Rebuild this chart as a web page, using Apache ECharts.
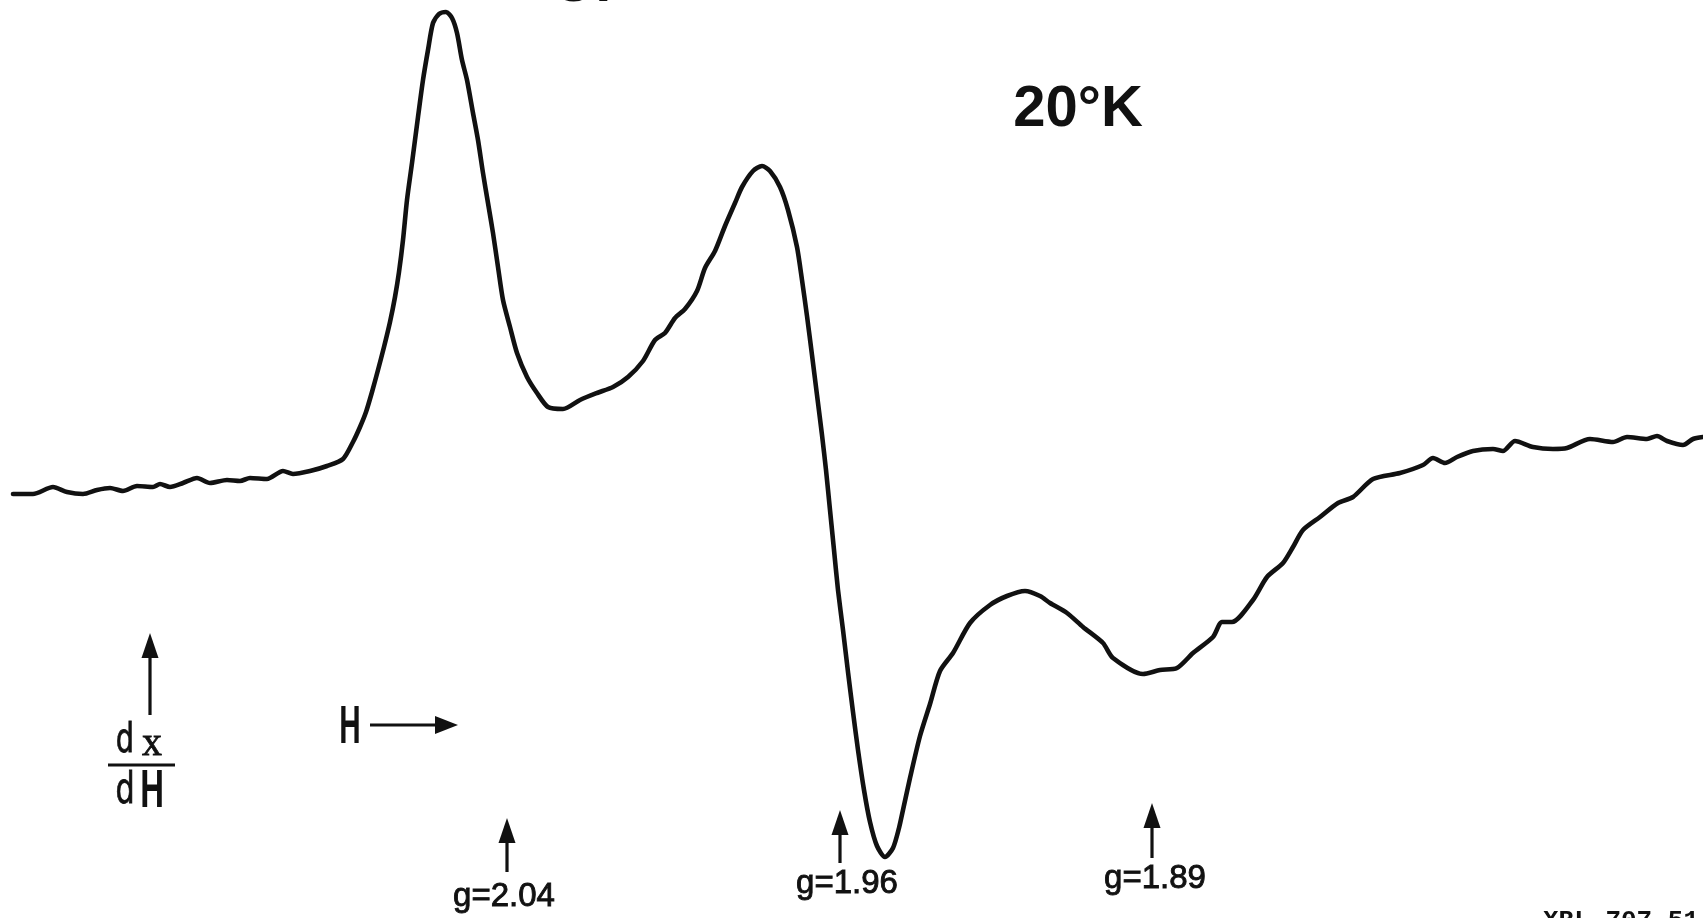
<!DOCTYPE html>
<html>
<head>
<meta charset="utf-8">
<script src="https://cdn.jsdelivr.net/npm/echarts@6/dist/echarts.min.js"></script>
<style>
  html, body { margin: 0; padding: 0; background: #ffffff; }
  #chart { width: 1703px; height: 918px; }
</style>
</head>
<body>
<div id="chart"></div>
<script>
// Magnetic field sweep position (arbitrary units, increasing H)
const fieldPos = [
  13, 33, 53, 67, 83, 97, 110, 123, 137, 153, 160, 170, 183, 197, 210, 227, 240, 250, 267, 283,
  293, 310, 327, 343, 353, 360, 366, 372, 378, 384, 390, 395, 399, 403, 407, 412, 418, 423, 428, 433,
  439, 446, 452, 457, 462, 467, 473, 478, 483, 488, 493, 498, 503, 510, 517, 527, 537, 548, 563, 580,
  597, 613, 628, 643, 655, 665, 675, 685, 697, 705, 715, 725, 735, 742, 753, 762, 770, 780, 788, 797,
  802, 807, 812, 817, 822, 826, 830, 834, 838, 843, 848, 853, 858, 864, 870, 877, 885, 893, 899, 903,
  910, 920, 930, 940, 953, 970, 990, 1007, 1025, 1040, 1050, 1067, 1083, 1103, 1113, 1143, 1160, 1177, 1193, 1213,
  1222, 1232, 1253, 1267, 1283, 1293, 1303, 1320, 1338, 1353, 1373, 1400, 1423, 1433, 1445, 1457, 1473, 1493, 1503, 1515,
  1533, 1553, 1567, 1590, 1613, 1627, 1647, 1657, 1667, 1683, 1693, 1703
];

// First-derivative absorption signal dX/dH (arbitrary units)
const signal = [
  -24, -24, -17, -22, -24, -20, -18, -21, -16, -17, -14, -17, -13, -8, -13, -10, -11, -8, -9, -1,
  -4, -1, 4, 11, 28, 43, 58, 78, 100, 123, 148, 173, 198, 230, 270, 307, 353, 390, 420, 447,
  456, 458, 452, 437, 410, 390, 357, 330, 297, 267, 237, 203, 170, 143, 117, 93, 77, 63, 61, 70,
  77, 83, 93, 109, 130, 137, 152, 161, 179, 202, 219, 244, 267, 283, 299, 304, 299, 283, 260, 223,
  190, 154, 115, 75, 35, 0, -40, -80, -120, -160, -202, -242, -280, -320, -352, -376, -387, -378, -358, -340,
  -308, -266, -234, -201, -183, -153, -135, -126, -121, -126, -133, -143, -157, -173, -188, -204, -200, -198, -183, -167,
  -152, -152, -130, -107, -93, -77, -60, -47, -33, -27, -9, -3, 5, 12, 7, 13, 19, 21, 19, 29,
  23, 21, 22, 31, 28, 33, 31, 34, 29, 25, 31, 33
];

// g-value markers along the field sweep
const gFields = [507, 840, 1152];
const gLabels = ['g=2.04', 'g=1.96', 'g=1.89'];

// Text annotations
const tempLabel = '20°K';
const headerText = 'OF';
const plateText = 'XBL 707-51';

const chart = echarts.init(document.getElementById('chart'), null, { renderer: 'canvas' });

chart.setOption({
  backgroundColor: '#ffffff',
  animation: false,
  grid: { left: 0, right: 0, top: 0, bottom: 0 },
  xAxis: { type: 'value', min: 0, max: 1703, show: false },
  yAxis: { type: 'value', min: -448, max: 470, show: false },
  series: [{
    type: 'line',
    data: fieldPos.map((h, i) => [h, signal[i]]),
    showSymbol: false,
    smooth: 0.25,
    lineStyle: { color: '#111111', width: 4.6, cap: 'round', join: 'round' }
  }]
});

// Vertical layout of the marker arrows and their captions
const markerLayout = [
  { tip: 818, bottom: 872, labelY: 897, dx: -3 },
  { tip: 810, bottom: 863, labelY: 884, dx: 7 },
  { tip: 803, bottom: 858, labelY: 879, dx: 3 }
];

const ink = '#111111';

function upArrow(x, tip, bottom, headW, headH) {
  return [
    { type: 'line', shape: { x1: x, y1: tip + headH - 4, x2: x, y2: bottom },
      style: { stroke: ink, lineWidth: 3.2 } },
    { type: 'polygon', shape: { points: [[x, tip], [x - headW / 2, tip + headH], [x + headW / 2, tip + headH]] },
      style: { fill: ink } }
  ];
}

const graphics = [];

gFields.forEach((g, i) => {
  const px = chart.convertToPixel({ gridIndex: 0 }, [g, 0])[0];
  const m = markerLayout[i];
  graphics.push(...upArrow(px, m.tip, m.bottom, 17, 25));
  graphics.push({
    type: 'text', x: px + m.dx, y: m.labelY,
    style: { text: gLabels[i], fill: ink, stroke: ink, lineWidth: 0.9,
      font: '33px "Liberation Sans", Arial, sans-serif',
      textAlign: 'center', textVerticalAlign: 'middle' }
  });
});

// Temperature label
graphics.push({
  type: 'text', x: 1078, y: 110,
  style: { text: tempLabel, fill: ink, font: 'bold 58px "Liberation Sans", Arial, sans-serif',
    textAlign: 'center', textVerticalAlign: 'middle' }
});

// Heading running off the top edge
graphics.push({
  type: 'text', x: 552, y: -14,
  style: { text: headerText, fill: ink, font: 'bold 56px "Liberation Sans", Arial, sans-serif',
    textAlign: 'left', textVerticalAlign: 'middle' }
});

// Plate number running off the bottom edge
graphics.push({
  type: 'text', x: 1543, y: 921,
  style: { text: plateText, fill: ink, font: 'bold 26px "Liberation Mono", monospace',
    textAlign: 'left', textVerticalAlign: 'middle' }
});

// Ordinate key: arrow over dX/dH
graphics.push(...upArrow(150, 633, 715, 17, 25));
graphics.push({
  type: 'text', x: 125, y: 742, scaleX: 0.72,
  style: { text: 'd', fill: ink, stroke: ink, lineWidth: 0.8, font: '40px "DejaVu Sans", sans-serif',
    textAlign: 'center', textVerticalAlign: 'middle' }
});
graphics.push({
  type: 'text', x: 152, y: 744, scaleX: 0.95,
  style: { text: 'x', fill: ink, stroke: ink, lineWidth: 0.8, font: '42px "Liberation Serif", serif',
    textAlign: 'center', textVerticalAlign: 'middle' }
});
graphics.push({
  type: 'line', shape: { x1: 108, y1: 765, x2: 175, y2: 765 },
  style: { stroke: ink, lineWidth: 3 }
});
graphics.push({
  type: 'text', x: 125, y: 792, scaleX: 0.72,
  style: { text: 'd', fill: ink, stroke: ink, lineWidth: 0.8, font: '42px "DejaVu Sans", sans-serif',
    textAlign: 'center', textVerticalAlign: 'middle' }
});
graphics.push({
  type: 'text', x: 152, y: 792, scaleX: 0.62,
  style: { text: 'H', fill: ink, font: 'bold 53px "Liberation Sans", Arial, sans-serif',
    textAlign: 'center', textVerticalAlign: 'middle' }
});

// Field direction key: H with arrow
graphics.push({
  type: 'text', x: 350, y: 728, scaleX: 0.55,
  style: { text: 'H', fill: ink, font: 'bold 54px "Liberation Sans", Arial, sans-serif',
    textAlign: 'center', textVerticalAlign: 'middle' }
});
graphics.push({
  type: 'line', shape: { x1: 370, y1: 725, x2: 440, y2: 725 },
  style: { stroke: ink, lineWidth: 3 }
});
graphics.push({
  type: 'polygon', shape: { points: [[458, 725], [435, 716], [435, 734]] },
  style: { fill: ink }
});

chart.setOption({ graphic: { elements: graphics } });
</script>
</body>
</html>
